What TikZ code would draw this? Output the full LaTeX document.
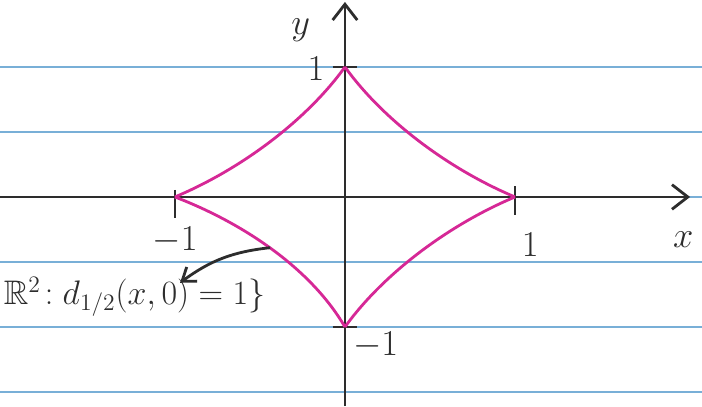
\documentclass[tikz,border=0pt]{standalone}
\usepackage{amssymb}
\usetikzlibrary{arrows.meta}
\definecolor{paperline}{RGB}{120,175,215}
\definecolor{curvepink}{RGB}{214,40,150}
\definecolor{pencil}{RGB}{45,45,45}

\begin{document}
\begin{tikzpicture}[x=3.4cm,y=2.6cm,
            axis/.style={pencil,line width=1.6pt,-{Straight Barb[length=9pt,width=14pt]}},
            tick/.style={pencil,line width=1.6pt},
            curve/.style={curvepink,line width=1.6pt},
            hand/.style={pencil,font=\huge}]
            \useasboundingbox (-2.029,-1.608) rectangle (2.1,1.515);
            \fill[white] (-2.029,-1.608) rectangle (2.1,1.515);
            % ruled paper
            \foreach \h in {1.0,0.5,0,-0.5,-1.0,-1.5}
                \draw[paperline,line width=1pt] (-2.029,\h) -- (2.1,\h);
            \coordinate (O) at (0,0);
            \coordinate (xr) at (1,0);
            \coordinate (xl) at (-1,0);
            \coordinate (yt) at (0,1);
            \coordinate (yb) at (0,-1);
            \coordinate (xstart) at (-2.029,0);
            \coordinate (xend) at (2.03,0);
            \coordinate (ystart) at (0,-1.608);
            \coordinate (yend) at (0,1.5);
            % axes
            \draw[axis] (xstart) -- (xend);
            \draw[axis] (ystart) -- (yend);
            \draw[tick] ([yshift=4pt]xl) -- ([yshift=-12pt]xl);
            \draw[tick] ([yshift=6pt]xr) -- ([yshift=-10pt]xr);
            \draw[tick] ([xshift=-7pt]yt) -- ([xshift=7pt]yt);
            \draw[tick] ([xshift=-7pt]yb) -- ([xshift=7pt]yb);
            % unit circle
            \draw[curve] (xr) .. controls (0.6,0.22) and (0.22,0.6) .. (yt);
            \draw[curve] (yt) .. controls (-0.22,0.6) and (-0.6,0.22) .. (xl);
            \draw[curve] (xl) .. controls (-0.6,-0.2) and (-0.2,-0.55) .. (yb);
            \draw[curve] (yb) .. controls (0.22,-0.6) and (0.6,-0.22) .. (xr);
            % labels
            \node[hand] (ylab) at (-0.26,1.28) {$y$};
            \node[hand] (xlab) at (1.99,-0.33) {$x$};
            \node[hand] (ytop) at (-0.17,0.99) {$1$};
            \node[hand] (xleft) at (-1.0,-0.33) {$-1$};
            \node[hand] (xright) at (1.09,-0.37) {$1$};
            \node[hand] (ybot) at (0.18,-1.14) {$-1$};
            \node[hand,anchor=west,font=\LARGE,scale=1.12,inner sep=1pt] (sphere) at (-2.02,-0.77) {$\mathbb{R}^2\!: d_{1/2}(x,0)=1\}$};
            \coordinate (pointer) at (-0.44,-0.39);
            \coordinate (pointee) at (-0.97,-0.66);
            \draw[pencil,line width=1.6pt,-{Straight Barb[length=7pt,width=10pt]}] (pointer) to[bend right=15] (pointee);
        \end{tikzpicture}
\end{document}
